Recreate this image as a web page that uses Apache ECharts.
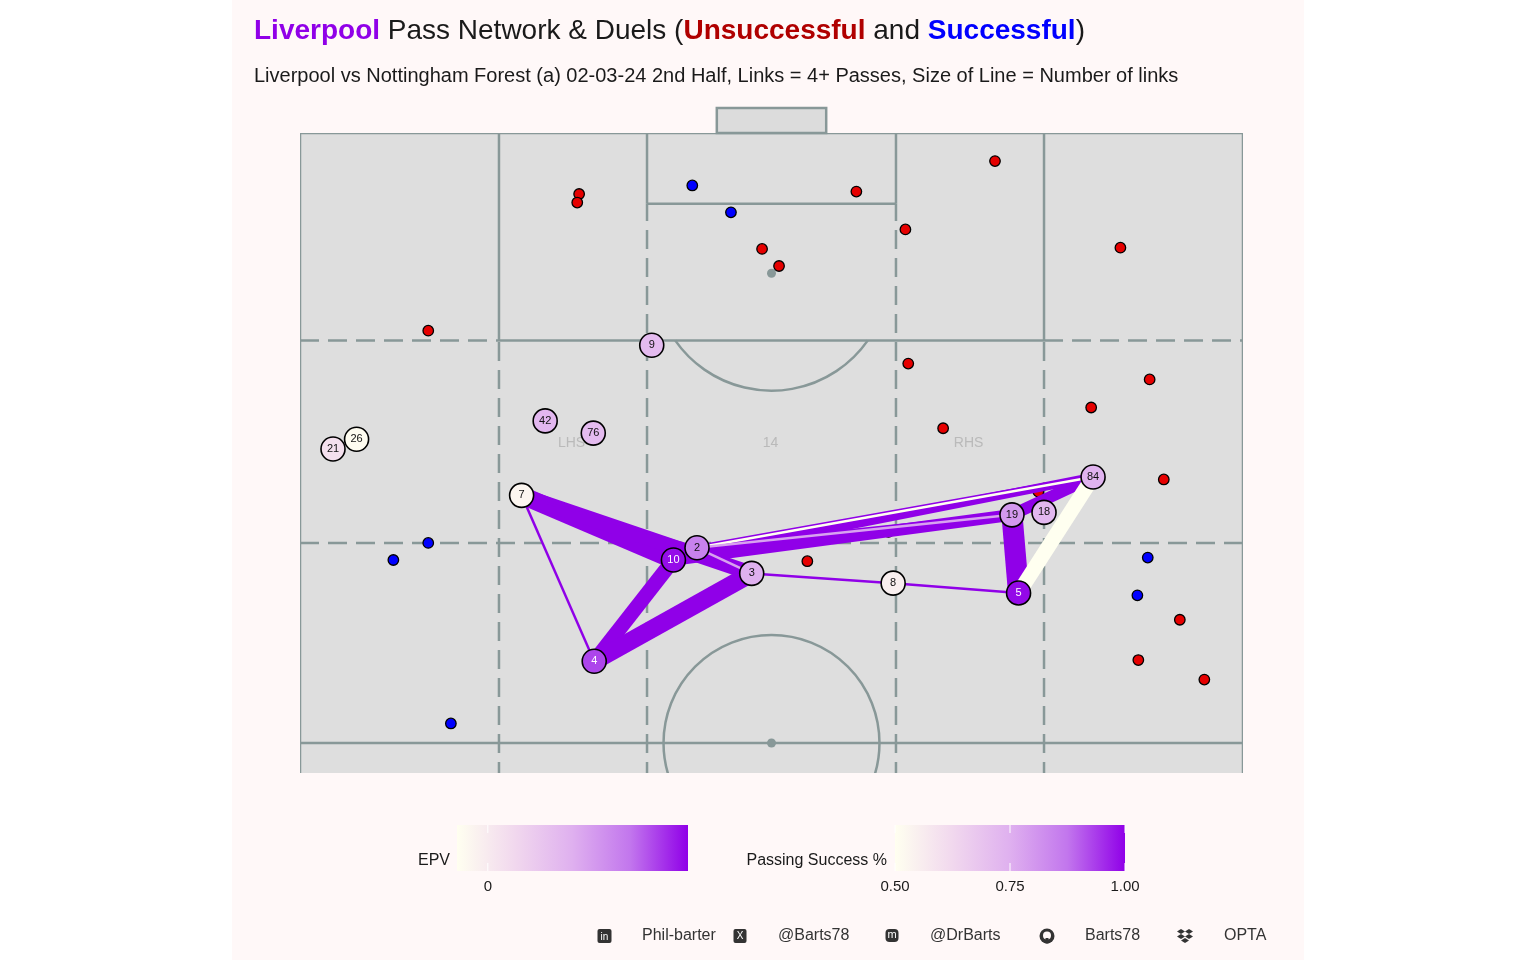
<!DOCTYPE html>
<html>
<head>
<meta charset="utf-8">
<script src="https://cdn.jsdelivr.net/npm/echarts@6/dist/echarts.min.js"></script>
<style>
  html, body { margin: 0; padding: 0; background: #ffffff; }
  #chart { width: 1536px; height: 960px; }
</style>
</head>
<body>
<div id="chart"></div>
<script>
// --- data (Opta-style pitch coords: x = across the pitch, y = along it, goal at 100) ---
var nodeIds  = ['21', '26', '42', '76', '9', '7', '2', '10', '3', '4', '8', '5', '19', '18', '84'];
var nodeX    = [3.5, 6.0, 26.0, 31.1, 37.3, 23.5, 42.1, 39.6, 47.9, 31.2, 62.9, 76.2, 75.5, 78.9, 84.1];
var nodeY    = [74.1, 74.9, 76.4, 75.4, 82.6, 70.3, 66.0, 65.0, 63.9, 56.7, 63.1, 62.3, 68.7, 68.9, 71.8];
var nodeEpv  = [0.010, -0.017, 0.048, 0.045, 0.045, -0.011, 0.085, 0.126, 0.055, 0.108, -0.005, 0.127, 0.070, 0.048, 0.052];

var linkFrom    = ['7', '7', '7', '7', '10', '3', '3', '8', '19', '19', '10', '2', '10', '2', '5', '84', '19', '2'];
var linkTo      = ['10', '3', '2', '4', '4', '4', '8', '5', '5', '84', '84', '84', '19', '19', '84', '2', '2', '3'];
var linkPasses  = [9, 8, 4, 4, 8, 9, 4, 4, 10, 7, 6, 5, 7, 5, 8, 4, 4, 4];
var linkSuccess = [1.0, 1.0, 1.0, 1.0, 1.0, 1.0, 1.0, 1.0, 1.0, 1.0, 1.0, 1.0, 1.0, 1.0, 0.5, 0.5, 0.78, 0.78];

var duelX   = [29.6, 29.4, 13.6, 49.0, 50.8, 59.0, 64.2, 73.7, 87.0, 64.5, 90.1, 83.9, 68.2, 91.6, 53.8, 93.3, 88.9, 95.9, 78.3, 62.4,
               41.6, 45.7, 13.6, 9.9, 16.0, 89.9, 88.8];
var duelY   = [95.0, 94.3, 83.8, 90.5, 89.1, 95.2, 92.1, 97.7, 90.6, 81.1, 79.8, 77.5, 75.8, 71.6, 64.9, 60.1, 56.8, 55.2, 70.6, 67.3,
               95.7, 93.5, 66.4, 65.0, 51.6, 65.2, 62.1];
var duelWon = [0, 0, 0, 0, 0, 0, 0, 0, 0, 0, 0, 0, 0, 0, 0, 0, 0, 0, 0, 0,
               1, 1, 1, 1, 1, 1, 1];

var zoneNames = ['LHS', '14', 'RHS'];
var zoneX = [28.8, 49.9, 70.9];
var zoneY = [74.6, 74.6, 74.6];

var epvTicks = [0];
var successTicks = [0.5, 0.75, 1.0];
var EPV_MIN = -0.02, EPV_MAX = 0.13;
var SUCCESS_MIN = 0.5, SUCCESS_MAX = 1.0;

// --- colours ---
var FONT = 'Liberation Sans, Arial, sans-serif';
var lineCol = '#889898';
var purple = '#9000e8';
var RAMP = [[0, [255, 255, 240]], [0.25, [241, 216, 238]], [0.5, [223, 176, 239]], [0.75, [194, 118, 237]], [1, [144, 0, 232]]];

function ramp(t) {
  t = Math.max(0, Math.min(1, t));
  for (var i = 1; i < RAMP.length; i++) {
    if (t <= RAMP[i][0]) {
      var a = RAMP[i - 1], b = RAMP[i];
      var f = (t - a[0]) / (b[0] - a[0]);
      var c = a[1].map(function(v, k) { return Math.round(v + (b[1][k] - v) * f); });
      return 'rgb(' + c.join(',') + ')';
    }
  }
  return purple;
}
function epvT(v) { return (v - EPV_MIN) / (EPV_MAX - EPV_MIN); }
function successT(v) { return (v - SUCCESS_MIN) / (SUCCESS_MAX - SUCCESS_MIN); }
function passWidth(n) { return (n - 3.2) * 3.1; }

// --- series data ---
var nodeData = nodeIds.map(function(id, i) {
  var t = epvT(nodeEpv[i]);
  return {
    name: id,
    value: [nodeX[i], nodeY[i]],
    itemStyle: { color: ramp(t) },
    label: { color: t > 0.8 ? '#ffffff' : '#111111' }
  };
});

var linkData = linkFrom.map(function(f, i) {
  var a = nodeIds.indexOf(f), b = nodeIds.indexOf(linkTo[i]);
  return {
    coords: [[nodeX[a], nodeY[a]], [nodeX[b], nodeY[b]]],
    lineStyle: { width: passWidth(linkPasses[i]), color: ramp(successT(linkSuccess[i])) }
  };
});

var duelData = duelX.map(function(x, i) {
  return { value: [x, duelY[i]], itemStyle: { color: duelWon[i] ? '#0000ff' : '#e60000' } };
});

var zoneData = zoneNames.map(function(n, i) { return { name: n, value: [zoneX[i], zoneY[i]] }; });

// --- pitch markings ---
function pitchItem(params, api) {
  var kids = [];
  var u = api.size([1, 1]);
  function seg(x1, y1, x2, y2, dash) {
    var a = api.coord([x1, y1]), b = api.coord([x2, y2]);
    kids.push({ type: 'line', shape: { x1: a[0], y1: a[1], x2: b[0], y2: b[1] },
      style: { stroke: lineCol, lineWidth: 2.5, lineDash: dash ? [19, 9] : null } });
  }
  var bottom = 40;
  // dashed channels
  seg(21.1, bottom, 21.1, 83, true);
  seg(78.9, bottom, 78.9, 83, true);
  seg(36.8, bottom, 36.8, 94.2, true);
  seg(63.2, bottom, 63.2, 94.2, true);
  seg(0, 83, 21.1, 83, true);
  seg(78.9, 83, 100, 83, true);
  seg(0, 66.4, 100, 66.4, true);
  // solid lines
  seg(0, bottom, 0, 100);
  seg(100, bottom, 100, 100);
  seg(0, 100, 100, 100);
  seg(21.1, 83, 21.1, 100);
  seg(78.9, 83, 78.9, 100);
  seg(21.1, 83, 78.9, 83);
  seg(36.8, 94.2, 36.8, 100);
  seg(63.2, 94.2, 63.2, 100);
  seg(36.8, 94.2, 63.2, 94.2);
  seg(0, 50, 100, 50);
  // penalty arc
  var ps = api.coord([50, 88.5]);
  var rD = 12.45 * u[0];
  var dy = api.coord([50, 83])[1] - ps[1];
  var ang = Math.asin(dy / rD);
  kids.push({ type: 'arc', shape: { cx: ps[0], cy: ps[1], r: rD, startAngle: ang, endAngle: Math.PI - ang, clockwise: true },
    style: { stroke: lineCol, lineWidth: 2.5, fill: 'none' } });
  kids.push({ type: 'circle', shape: { cx: ps[0], cy: ps[1], r: 4.5 }, style: { fill: lineCol } });
  // centre circle and spot
  var cs = api.coord([50, 50]);
  kids.push({ type: 'circle', shape: { cx: cs[0], cy: cs[1], r: 11.45 * u[0] },
    style: { stroke: lineCol, lineWidth: 2.5, fill: 'none' } });
  kids.push({ type: 'circle', shape: { cx: cs[0], cy: cs[1], r: 4.5 }, style: { fill: lineCol } });
  return { type: 'group', children: kids };
}

function goalItem(params, api) {
  var a = api.coord([44.2, 102.05]), b = api.coord([55.8, 100]);
  return { type: 'rect', shape: { x: a[0], y: a[1], width: b[0] - a[0], height: b[1] - a[1] },
    style: { fill: '#dcdcdc', stroke: lineCol, lineWidth: 2.5 } };
}

// --- legend bars ---
function gradient() {
  return new echarts.graphic.LinearGradient(0, 0, 1, 0, RAMP.map(function(s) {
    return { offset: s[0], color: 'rgb(' + s[1].join(',') + ')' };
  }));
}
function txt(x, y, text, size, align, color) {
  return { type: 'text', x: x, y: y, silent: true,
    style: { text: text, fill: color || '#1a1a1a', font: size + 'px ' + FONT,
      align: align, textAlign: align, verticalAlign: 'middle', textVerticalAlign: 'middle' } };
}
function tick(x, y0, y1) {
  return { type: 'line', shape: { x1: x, y1: y0, x2: x, y2: y1 }, style: { stroke: '#ffffff', lineWidth: 1 } };
}

var barY = 825, barH = 46;
var epvBar = { x: 457, w: 231 };
var sucBar = { x: 895, w: 230 };
var graphics = [
  { type: 'rect', z: -10, shape: { x: 232, y: 0, width: 1072, height: 960 }, style: { fill: '#fff8f8' }, silent: true },
  { type: 'rect', shape: { x: epvBar.x, y: barY, width: epvBar.w, height: barH }, style: { fill: gradient() } },
  { type: 'rect', shape: { x: sucBar.x, y: barY, width: sucBar.w, height: barH }, style: { fill: gradient() } },
  txt(450, 861, 'EPV', 16, 'right'),
  txt(887, 861, 'Passing Success %', 16, 'right')
];
epvTicks.forEach(function(v) {
  var x = epvBar.x + epvT(v) * epvBar.w;
  graphics.push(tick(x, barY, barY + 8), tick(x, barY + barH - 8, barY + barH), txt(x, 887, String(v), 15, 'center'));
});
successTicks.forEach(function(v) {
  var x = sucBar.x + successT(v) * sucBar.w;
  graphics.push(tick(x, barY, barY + 8), tick(x, barY + barH - 8, barY + barH), txt(x, 887, v.toFixed(2), 15, 'center'));
});

// --- footer ---
var footY = 936;
var footText = ['Phil-barter', '@Barts78', '@DrBarts', 'Barts78', 'OPTA'];
var footTextX = [642, 778, 930, 1085, 1224];
footText.forEach(function(t, i) { graphics.push(txt(footTextX[i], footY, t, 16, 'left', '#333333')); });
var ic = '#333333';
graphics.push(
  { type: 'rect', shape: { x: 597.5, y: footY - 7, width: 14, height: 14, r: 2 }, style: { fill: ic } },
  txt(604.5, footY + 1, 'in', 10, 'center', '#ffffff'),
  { type: 'rect', shape: { x: 733.5, y: footY - 7, width: 13, height: 14, r: 2 }, style: { fill: ic } },
  txt(740, footY + 0.5, 'X', 10, 'center', '#ffffff'),
  { type: 'rect', shape: { x: 885.5, y: footY - 7, width: 13, height: 13, r: 4 }, style: { fill: ic } },
  txt(892, footY - 1, 'm', 11, 'center', '#ffffff'),
  { type: 'circle', shape: { cx: 1047, cy: footY, r: 7.5 }, style: { fill: ic } },
  { type: 'circle', shape: { cx: 1047, cy: footY - 0.5, r: 4 }, style: { fill: '#fff8f8' } },
  { type: 'rect', shape: { x: 1045.5, y: footY + 2, width: 3, height: 5.5 }, style: { fill: ic } },
  { type: 'polygon', shape: { points: [[1181, footY - 7], [1185, footY - 4.5], [1181, footY - 2], [1177, footY - 4.5]] }, style: { fill: ic } },
  { type: 'polygon', shape: { points: [[1189, footY - 7], [1193, footY - 4.5], [1189, footY - 2], [1185, footY - 4.5]] }, style: { fill: ic } },
  { type: 'polygon', shape: { points: [[1181, footY - 2], [1185, footY + 0.5], [1181, footY + 3], [1177, footY + 0.5]] }, style: { fill: ic } },
  { type: 'polygon', shape: { points: [[1189, footY - 2], [1193, footY + 0.5], [1189, footY + 3], [1185, footY + 0.5]] }, style: { fill: ic } },
  { type: 'polygon', shape: { points: [[1185, footY + 2], [1189, footY + 4.5], [1185, footY + 7], [1181, footY + 4.5]] }, style: { fill: ic } }
);

// --- chart ---
var chart = echarts.init(document.getElementById('chart'), null, { renderer: 'canvas' });
chart.setOption({
  animation: false,
  backgroundColor: '#ffffff',
  textStyle: { fontFamily: FONT },
  title: [
    {
      left: 254, top: 17, padding: 0,
      text: '{p|Liverpool} Pass Network & Duels ({r|Unsuccessful} and {b|Successful})',
      textStyle: {
        fontFamily: FONT, fontSize: 28, fontWeight: 'normal', color: '#1a1a1a',
        rich: {
          p: { fontFamily: FONT, fontSize: 28, fontWeight: 'bold', color: purple },
          r: { fontFamily: FONT, fontSize: 28, fontWeight: 'bold', color: '#b00000' },
          b: { fontFamily: FONT, fontSize: 28, fontWeight: 'bold', color: '#0000ff' }
        }
      }
    },
    {
      left: 254, top: 66, padding: 0,
      text: 'Liverpool vs Nottingham Forest (a) 02-03-24 2nd Half, Links = 4+ Passes, Size of Line = Number of links',
      textStyle: { fontFamily: FONT, fontSize: 20, fontWeight: 'normal', color: '#1a1a1a' }
    }
  ],
  grid: { left: 300, top: 133, width: 943, height: 640, show: true, backgroundColor: '#dedede', borderWidth: 0 },
  xAxis: { type: 'value', min: 0, max: 100, show: false },
  yAxis: { type: 'value', min: 47.54, max: 100, show: false },
  graphic: graphics,
  series: [
    { type: 'custom', renderItem: pitchItem, data: [[50, 50]], clip: true, silent: true, z: 1 },
    { type: 'custom', renderItem: goalItem, data: [[50, 100]], clip: false, silent: true, z: 1 },
    {
      type: 'scatter', data: zoneData, symbolSize: 0, silent: true, z: 1,
      label: { show: true, position: 'inside', formatter: '{b}', color: '#b0b0b0', fontSize: 14, fontFamily: FONT }
    },
    {
      type: 'scatter', data: duelData, symbolSize: 10.5, z: 2,
      itemStyle: { borderColor: '#000000', borderWidth: 1.3, opacity: 1 }
    },
    { type: 'lines', coordinateSystem: 'cartesian2d', data: linkData, z: 3, lineStyle: { opacity: 1, cap: 'butt' } },
    {
      type: 'scatter', data: nodeData, symbolSize: 24, z: 4,
      itemStyle: { borderColor: '#000000', borderWidth: 1.6, opacity: 1 },
      label: { show: true, position: 'inside', formatter: '{b}', fontSize: 11, fontFamily: FONT }
    }
  ]
});
</script>
</body>
</html>
